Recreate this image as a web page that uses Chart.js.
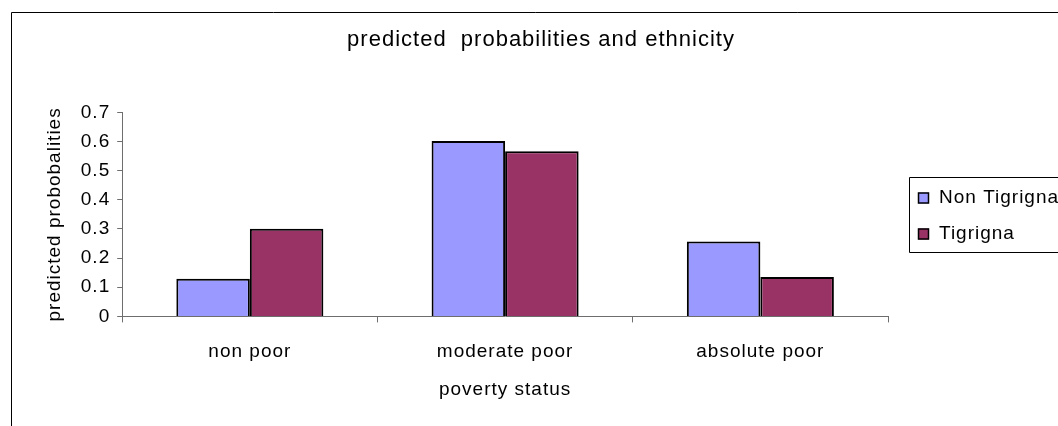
<!DOCTYPE html>
<html>
<head>
<meta charset="utf-8">
<script src="https://cdn.jsdelivr.net/npm/chart.js@4.4.1/dist/chart.umd.min.js"></script>
<style>
  html, body { margin: 0; padding: 0; background: #ffffff; }
  #wrap { position: relative; width: 1058px; height: 426px; }
</style>
</head>
<body>
<div id="wrap"><canvas id="chart" width="1058" height="426"></canvas></div>
<script>
// Poverty status categories and predicted probabilities by ethnicity
const categories = ['non poor', 'moderate poor', 'absolute poor'];
const seriesNames = ['Non Tigrigna', 'Tigrigna'];
const nonTigrigna = [0.129, 0.602, 0.257];
const tigrigna = [0.301, 0.567, 0.135];
const yTicks = [0, 0.1, 0.2, 0.3, 0.4, 0.5, 0.6, 0.7];

const FONT = '"Liberation Sans", Arial, sans-serif';
const colors = ['#9999ff', '#993366'];
const AXIS = '#6e6e6e';

// Slightly wide lettering for all chart text
const spacingPlugin = {
  id: 'spacing',
  beforeUpdate(chart) { chart.ctx.letterSpacing = '1px'; },
  beforeDraw(chart) { chart.ctx.letterSpacing = '1px'; },
  // centre the title across the whole frame rather than the plot only
  afterLayout(chart) {
    if (chart.titleBlock) {
      chart.titleBlock.left = 24;
      chart.titleBlock.right = chart.width;
    }
  }
};

// Outer chart frame and the boxed legend on the right
const framePlugin = {
  id: 'frame',
  beforeDraw(chart) {
    const ctx = chart.ctx;
    ctx.save();
    ctx.fillStyle = '#ffffff';
    ctx.fillRect(0, 0, chart.width, chart.height);
    ctx.strokeStyle = '#000000';
    ctx.lineWidth = 1;
    ctx.beginPath();
    ctx.moveTo(11.5, chart.height + 2);
    ctx.lineTo(11.5, 12.5);
    ctx.lineTo(chart.width + 2, 12.5);
    ctx.stroke();
    ctx.restore();
  },
  afterDraw(chart) {
    const ctx = chart.ctx;
    ctx.save();
    const bx = 909.5, by = 177.5, bh = 75;
    ctx.strokeStyle = '#000000';
    ctx.lineWidth = 1;
    ctx.beginPath();
    ctx.moveTo(chart.width + 2, by);
    ctx.lineTo(bx, by);
    ctx.lineTo(bx, by + bh);
    ctx.lineTo(chart.width + 2, by + bh);
    ctx.stroke();
    ctx.font = '19px ' + FONT;
    ctx.textBaseline = 'middle';
    chart.data.datasets.forEach((ds, i) => {
      const cy = 197.5 + i * 36;
      ctx.fillStyle = ds.backgroundColor;
      ctx.fillRect(918, cy - 5, 11, 11);
      ctx.strokeStyle = '#000000';
      ctx.lineWidth = 1.5;
      ctx.strokeRect(918.5, cy - 4.5, 10, 10);
      ctx.fillStyle = '#000000';
      ctx.fillText(ds.label, 939, cy);
    });
    ctx.restore();
  }
};

new Chart(document.getElementById('chart'), {
  type: 'bar',
  data: {
    labels: categories,
    datasets: [
      { label: seriesNames[0], data: nonTigrigna, backgroundColor: colors[0], borderColor: '#000000', borderWidth: 2, borderSkipped: 'bottom' },
      { label: seriesNames[1], data: tigrigna, backgroundColor: colors[1], borderColor: '#000000', borderWidth: 2, borderSkipped: 'bottom' }
    ]
  },
  options: {
    responsive: false,
    animation: false,
    devicePixelRatio: 1,
    layout: { padding: { left: 30, right: 170, top: 20, bottom: 25 } },
    datasets: { bar: { categoryPercentage: 0.576, barPercentage: 1.0 } },
    plugins: {
      legend: { display: false },
      tooltip: { enabled: false },
      title: {
        display: true,
        text: 'predicted  probabilities and ethnicity',
        color: '#000000',
        font: { family: FONT, size: 22, weight: 'normal', lineHeight: 1.2 },
        padding: { top: 7, bottom: 59 }
      }
    },
    scales: {
      x: {
        grid: { display: true, offset: true, drawOnChartArea: false, drawTicks: true, tickLength: 6, color: AXIS },
        border: { display: true, color: AXIS, width: 1 },
        ticks: { color: '#000000', font: { family: FONT, size: 19, lineHeight: 1.2 }, padding: 18 },
        title: { display: true, text: 'poverty status', color: '#000000', font: { family: FONT, size: 19, lineHeight: 1.2 }, padding: { top: -3, bottom: 0 } }
      },
      y: {
        min: 0,
        max: 0.7,
        afterBuildTicks(axis) { axis.ticks = yTicks.map(v => ({ value: v })); },
        grid: { display: true, drawOnChartArea: false, drawTicks: true, tickLength: 5, color: AXIS },
        border: { display: true, color: AXIS, width: 1 },
        ticks: { color: '#000000', font: { family: FONT, size: 19 }, padding: 7, callback: v => String(+v.toFixed(1)) },
        title: { display: true, text: 'predicted probobalities', color: '#000000', font: { family: FONT, size: 19, lineHeight: 1.2 }, padding: { top: 13, bottom: 8 } }
      }
    }
  },
  plugins: [spacingPlugin, framePlugin]
});
</script>
</body>
</html>
